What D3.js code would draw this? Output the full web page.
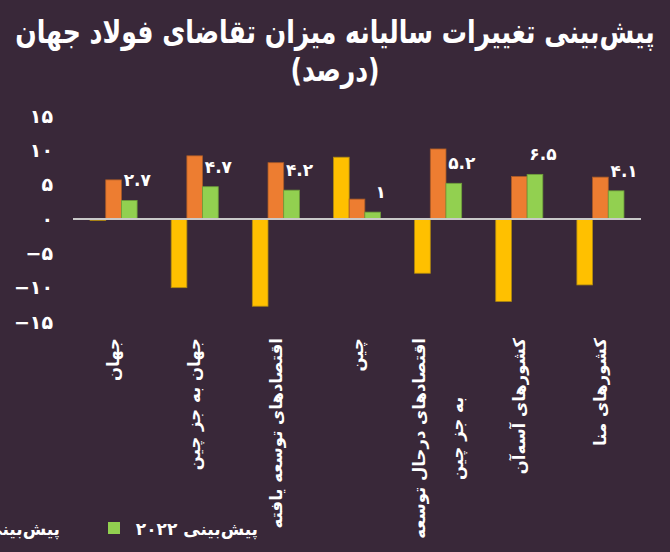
<!DOCTYPE html>
<html>
<head>
<meta charset="utf-8">
<script src="https://cdn.jsdelivr.net/npm/d3@7"></script>
<style>
  html, body { margin: 0; padding: 0; background: #392839; }
  svg { display: block; }
  text { font-family: "DejaVu Sans", sans-serif; fill: #ffffff; }
</style>
</head>
<body>
<svg id="chart" width="670" height="552"></svg>
<script>
// category names (multi-line ones split with |)
const categories = ["جهان", "جهان به جز چین", "اقتصادهای توسعه یافته", "چین",
                    "اقتصادهای درحال توسعه|به جز چین", "کشورهای آسه‌آن", "کشورهای منا"];
const series2020 = [-0.2, -10.0, -12.7, 9.0, -7.9, -12.0, -9.6];
const series2021 = [5.7, 9.2, 8.2, 2.9, 10.2, 6.2, 6.1];
const series2022 = [2.7, 4.7, 4.2, 1.0, 5.2, 6.5, 4.1];
const yTicks = [15, 10, 5, 0, -5, -10, -15];
const legendNames = ["پیش‌بینی ۲۰۲۱", "پیش‌بینی ۲۰۲۲"];

const colors = ["#ffc000", "#ed7d31", "#92d050"];
const strokes = ["#b08a10", "#a85a28", "#6e9e3a"];

const fa = s => String(s).replace(/\d/g, d => "۰۱۲۳۴۵۶۷۸۹"[d]);
const faNum = v => (v < 0 ? "\u2212" : "") + fa(Math.abs(v));

const svg = d3.select("#chart");

// title: tall bold face squeezed to the width
function titleLine(txt, yy, sx) {
    const t = svg.append("text")
        .attr("text-anchor", "middle")
        .attr("font-weight", "bold")
        .attr("font-size", 28)
        .text(txt);
    const w = t.node().getComputedTextLength();
    const k = sx || 640 / w;
    t.attr("transform", `translate(335,${yy}) scale(${k},1.15)`);
    return k;
}
const kTitle = titleLine("پیش‌بینی تغییرات سالیانه میزان تقاضای فولاد جهان", 43);
titleLine("(درصد)", 81, kTitle);

const y = d3.scaleLinear().domain([-15, 15]).range([322, 116]);
const x = d3.scaleBand().domain(categories).range([73, 641]).paddingInner(0);
const inner = d3.scaleBand().domain([0, 1, 2])
    .range([0, x.bandwidth() * 0.58]);
const groupOff = (x.bandwidth() - inner.range()[1]) / 2;

// y tick labels
svg.append("g").selectAll("text").data(yTicks).join("text")
    .attr("x", 53).attr("y", d => y(d))
    .attr("dy", "0.35em")
    .attr("text-anchor", "end")
    .attr("font-size", 19)
    .attr("font-weight", "bold")
    .text(d => faNum(d));

// bars
const allSeries = [series2020, series2021, series2022];
const bars = [];
categories.forEach((c, i) => {
    allSeries.forEach((s, k) => bars.push({ c: c, k: k, v: s[i] }));
});

svg.append("g").selectAll("rect").data(bars).join("rect")
    .attr("x", d => x(d.c) + groupOff + inner(d.k))
    .attr("width", inner.bandwidth())
    .attr("y", d => y(Math.max(0, d.v)))
    .attr("height", d => Math.abs(y(d.v) - y(0)))
    .attr("fill", d => colors[d.k])
    .attr("stroke", d => strokes[d.k])
    .attr("stroke-width", 0.8);

// zero line
svg.append("line")
    .attr("x1", 73).attr("x2", 641)
    .attr("y1", y(0)).attr("y2", y(0))
    .attr("stroke", "#c9c9c9")
    .attr("stroke-width", 2);

// labels for 2022 forecast
svg.append("g").selectAll("text").data(series2022).join("text")
    .attr("x", (d, i) => x(categories[i]) + groupOff + inner(2) + inner.bandwidth() / 2 + 8)
    .attr("y", d => y(d) - 14)
    .attr("text-anchor", "middle")
    .attr("font-size", 17)
    .attr("font-weight", "bold")
    .text(d => d % 1 === 0 ? fa(d) : fa(d.toFixed(1)));

// category labels, rotated
const labTop = 338;
categories.forEach(c => {
    const lines = c.split("|");
    const cx = x(c) + x.bandwidth() / 2;
    let w0 = 0;
    lines.forEach((ln, j) => {
        const lx = cx + (j - (lines.length - 1) / 2) * 38;
        const t = svg.append("text")
            .attr("font-size", 16.5)
            .attr("font-weight", "bold")
            .attr("dy", "0.35em")
            .text(ln);
        if (j === 0) {
            w0 = t.node().getComputedTextLength();
            t.attr("text-anchor", "end")
             .attr("transform", `translate(${lx},${labTop}) rotate(-90)`);
        } else {
            t.attr("text-anchor", "middle")
             .attr("transform", `translate(${lx},${labTop + w0 / 2}) rotate(-90)`);
        }
    });
});

// legend (partly outside on the left, as in the original)
const legendX = [-60, 108];
legendNames.forEach((n, i) => {
    svg.append("rect")
        .attr("x", legendX[i]).attr("y", 522)
        .attr("width", 12).attr("height", 12)
        .attr("fill", colors[i + 1]);
    svg.append("text")
        .attr("x", i === 0 ? 60 : 258).attr("y", 535)
        .attr("text-anchor", "end")
        .attr("font-size", 17)
        .attr("font-weight", "bold")
        .text(n);
});
</script>
</body>
</html>
